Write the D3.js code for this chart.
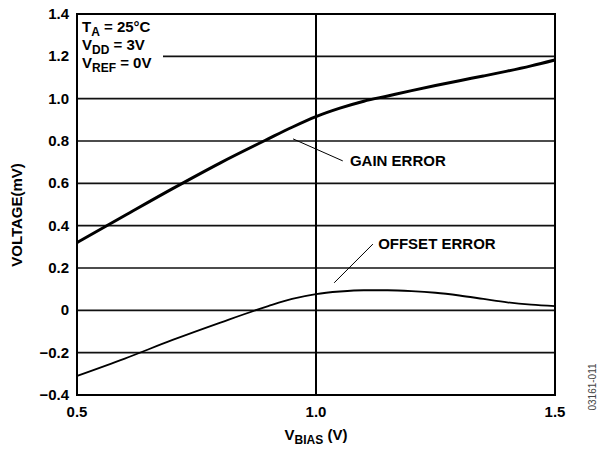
<!DOCTYPE html>
<html lang="en">
<head>
  <meta charset="UTF-8">
  <title>Gain and Offset Error vs VBIAS</title>
  <script src="https://d3js.org/d3.v7.min.js"></script>
  <style>
    body { margin: 0; background: #fff; }
    text { font-family: Arial, "Liberation Sans", Helvetica, sans-serif; font-weight: bold; fill: #000; }
  </style>
</head>
<body>
  <div id="chart"></div>
  <script>
    const width = 600;
    const height = 450;

    // x ticks / y ticks
    const xTicks = [0.5, 1.0, 1.5];
    const yTicks = [-0.4, -0.2, 0, 0.2, 0.4, 0.6, 0.8, 1.0, 1.2, 1.4];

    // gain error (mV) vs VBIAS (V)
    const gainX = [0.5, 0.6, 0.7, 0.8, 0.9, 0.95, 1.0, 1.05, 1.1, 1.15, 1.2, 1.25, 1.3, 1.35, 1.4, 1.45, 1.5];
    const gainY = [0.32, 0.448, 0.575, 0.697, 0.81, 0.865, 0.915, 0.955, 0.988, 1.013, 1.038, 1.062, 1.085, 1.107, 1.13, 1.155, 1.183];

    // offset error (mV)
    const offsetX = [0.5, 0.6, 0.7, 0.8, 0.9, 0.95, 1.0, 1.05, 1.1, 1.15, 1.2, 1.25, 1.3, 1.35, 1.4, 1.45, 1.5];
    const offsetY = [-0.31, -0.228, -0.14, -0.058, 0.02, 0.054, 0.077, 0.089, 0.095, 0.095, 0.091, 0.083, 0.07, 0.054, 0.038, 0.027, 0.02];

    const margin = { top: 14, right: 45, bottom: 55, left: 77 };
    const innerW = width - margin.left - margin.right;
    const innerH = height - margin.top - margin.bottom;

    const svg = d3.select("#chart").append("svg").attr("width", width).attr("height", height);
    const g = svg.append("g").attr("transform", `translate(${margin.left},${margin.top})`);

    const x = d3.scaleLinear().domain([0.5, 1.5]).range([0, innerW]);
    const y = d3.scaleLinear().domain([-0.4, 1.4]).range([innerH, 0]);

    // horizontal grid
    g.selectAll(".hgrid")
      .data(yTicks.filter(d => d > -0.4 && d < 1.4))
      .enter().append("line")
      .attr("x1", d => d === 1.2 ? 86 : 0)
      .attr("x2", innerW)
      .attr("y1", d => y(d)).attr("y2", d => y(d))
      .attr("stroke", "#111").attr("stroke-width", 1.6);

    // vertical grid at 1.0
    g.append("line")
      .attr("x1", x(1.0)).attr("x2", x(1.0))
      .attr("y1", 0).attr("y2", innerH)
      .attr("stroke", "#000").attr("stroke-width", 2);

    // frame
    g.append("rect")
      .attr("width", innerW).attr("height", innerH)
      .attr("fill", "none").attr("stroke", "#000").attr("stroke-width", 2);

    // y tick labels
    g.selectAll(".ylab")
      .data(yTicks)
      .enter().append("text")
      .attr("x", -8).attr("y", d => y(d) + 5)
      .attr("text-anchor", "end")
      .style("font-size", "15px")
      .text(d => d === 0 ? "0" : (d < 0 ? "\u2212" + Math.abs(d).toFixed(1) : d.toFixed(1)));

    // x tick labels
    g.selectAll(".xlab")
      .data(xTicks)
      .enter().append("text")
      .attr("x", d => x(d)).attr("y", innerH + 22)
      .attr("text-anchor", "middle")
      .style("font-size", "15px")
      .text(d => d.toFixed(1));

    const line = d3.line().x(d => x(d[0])).y(d => y(d[1])).curve(d3.curveMonotoneX);

    g.append("path")
      .datum(d3.zip(gainX, gainY))
      .attr("d", line)
      .attr("fill", "none").attr("stroke", "#000").attr("stroke-width", 3);

    g.append("path")
      .datum(d3.zip(offsetX, offsetY))
      .attr("d", line)
      .attr("fill", "none").attr("stroke", "#000").attr("stroke-width", 1.8);

    // annotations
    g.append("line")
      .attr("x1", x(0.952)).attr("y1", y(0.81))
      .attr("x2", x(1.056)).attr("y2", y(0.706))
      .attr("stroke", "#000").attr("stroke-width", 1);
    g.append("text")
      .attr("x", x(1.071)).attr("y", y(0.706) + 5)
      .style("font-size", "15px")
      .text("GAIN ERROR");

    g.append("line")
      .attr("x1", x(1.038)).attr("y1", y(0.13))
      .attr("x2", x(1.119)).attr("y2", y(0.313))
      .attr("stroke", "#000").attr("stroke-width", 1);
    g.append("text")
      .attr("x", x(1.13)).attr("y", y(0.313) + 5)
      .style("font-size", "15px")
      .text("OFFSET ERROR");

    // conditions box
    const cond = [["T", "A", " = 25\u00b0C"], ["V", "DD", " = 3V"], ["V", "REF", " = 0V"]];
    cond.forEach((c, i) => {
      const t = g.append("text")
        .attr("x", 5).attr("y", 18 + i * 18)
        .style("font-size", "15px");
      t.append("tspan").text(c[0]);
      t.append("tspan").attr("dy", 4).style("font-size", "12px").text(c[1]);
      t.append("tspan").attr("dy", -4).text(c[2]);
    });

    // axis titles
    const xt = svg.append("text")
      .attr("x", margin.left + x(1.0)).attr("y", 440)
      .attr("text-anchor", "middle")
      .style("font-size", "15px");
    xt.append("tspan").text("V");
    xt.append("tspan").attr("dy", 4).style("font-size", "12px").text("BIAS");
    xt.append("tspan").attr("dy", -4).text(" (V)");

    svg.append("text")
      .attr("transform", "translate(22,215) rotate(-90)")
      .attr("text-anchor", "middle")
      .style("font-size", "15px")
      .text("VOLTAGE(mV)");

    svg.append("text")
      .attr("transform", "translate(596,387) rotate(-90)")
      .attr("text-anchor", "middle")
      .style("font-size", "10px").style("font-weight", "normal").style("fill", "#444")
      .text("03161-011");
  </script>
</body>
</html>
